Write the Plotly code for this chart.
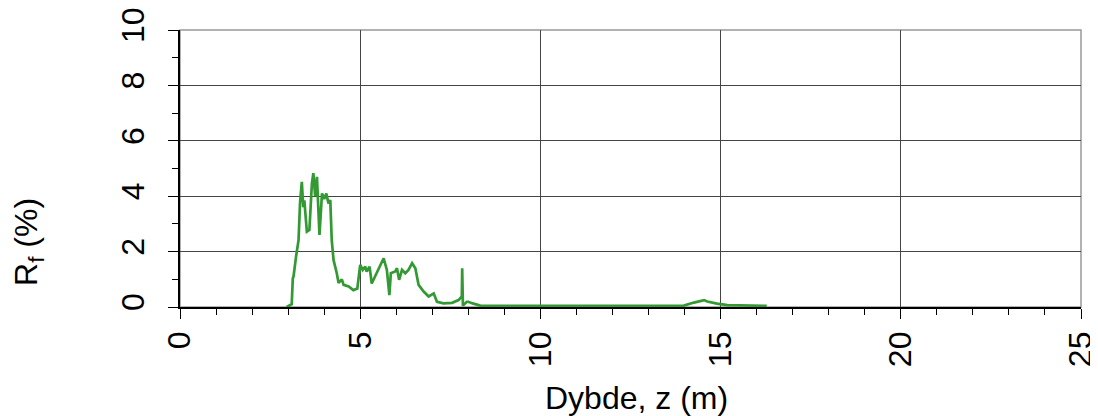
import plotly.graph_objects as go

# Depth (m) and friction ratio Rf (%)
depth = [2.96, 3.10, 3.13, 3.15, 3.22, 3.29, 3.33, 3.38, 3.42, 3.45, 3.52, 3.59, 3.66, 3.70,
         3.75, 3.80, 3.87, 3.94, 4.00, 4.06, 4.12, 4.17, 4.21, 4.26, 4.35, 4.40, 4.49, 4.54,
         4.68, 4.81, 4.92, 5.00, 5.07, 5.14, 5.18, 5.26, 5.32, 5.44, 5.51, 5.65, 5.74, 5.81,
         5.85, 5.97, 6.02, 6.08, 6.16, 6.25, 6.34, 6.44, 6.53, 6.62, 6.76, 6.90, 7.04, 7.13,
         7.31, 7.55, 7.73, 7.82, 7.83, 7.85, 7.96, 8.00, 8.12, 8.33, 9.0, 10.0, 11.0, 12.0,
         13.0, 13.98, 14.26, 14.54, 14.63, 14.90, 15.19, 15.80, 16.28]
rf = [0.00, 0.10, 1.04, 1.10, 1.82, 2.42, 3.74, 4.52, 3.60, 3.85, 2.72, 2.78, 4.46, 4.83,
      4.00, 4.70, 2.60, 4.10, 3.90, 4.10, 3.74, 3.86, 2.42, 1.70, 1.22, 0.87, 1.00, 0.80,
      0.74, 0.61, 0.67, 1.52, 1.34, 1.46, 1.28, 1.46, 0.85, 1.16, 1.40, 1.76, 1.34, 0.43,
      1.22, 1.28, 1.40, 0.98, 1.34, 1.22, 1.34, 1.58, 1.40, 0.80, 0.56, 0.38, 0.49, 0.19,
      0.13, 0.15, 0.25, 0.38, 1.40, 0.05, 0.19, 0.19, 0.13, 0.05, 0.04, 0.04, 0.05, 0.04,
      0.05, 0.05, 0.16, 0.25, 0.20, 0.12, 0.07, 0.05, 0.04]

font = "Liberation Sans, Arial, sans-serif"

fig = go.Figure()
fig.add_trace(go.Scatter(x=depth, y=rf, mode="lines",
                         line=dict(color="#339933", width=2.7)))

# gray frame for top and right edges
fig.add_shape(type="rect", xref="paper", yref="paper", x0=0, y0=0, x1=1, y1=1,
              line=dict(color="#999999", width=1.5), layer="below")

fig.update_xaxes(range=[0, 25], dtick=5, tickangle=-90, automargin=False,
                 ticklabeloverflow="allow",
                 showgrid=True, gridcolor="#444444", gridwidth=1,
                 showline=True, linecolor="black", linewidth=1.5,
                 ticks="outside", ticklen=10, tickcolor="black",
                 minor=dict(dtick=1, ticks="outside", ticklen=6, tickcolor="black", showgrid=False),
                 tickfont=dict(family=font, size=32, color="black"), zeroline=False)
fig.update_yaxes(range=[0, 10], dtick=2, tickangle=-90, automargin=False,
                 ticklabeloverflow="allow", ticklabelstandoff=11,
                 showgrid=True, gridcolor="#444444", gridwidth=1,
                 showline=True, linecolor="black", linewidth=1.5,
                 ticks="outside", ticklen=10, tickcolor="black",
                 minor=dict(dtick=1, ticks="outside", ticklen=6, tickcolor="black", showgrid=False),
                 tickfont=dict(family=font, size=32, color="black"), zeroline=False)

fig.add_annotation(text="Dybde, z (m)", xref="paper", yref="paper", x=0.5, y=0,
                   xshift=6, yshift=-91, showarrow=False, yanchor="middle",
                   font=dict(family=font, size=32, color="black"))
fig.add_annotation(text="R<sub>f</sub> (%)", xref="paper", yref="paper", x=0, y=0.235,
                   xshift=-151, showarrow=False, textangle=-90,
                   xanchor="center", yanchor="middle",
                   font=dict(family=font, size=32, color="black"))

# page body adds an 8px offset, so the figure is sized to fit inside the window
fig.update_layout(width=1090, height=408, showlegend=False,
                  plot_bgcolor="white", paper_bgcolor="white",
                  margin=dict(l=172, r=17, t=22, b=109))

fig.write_html("out.html")
